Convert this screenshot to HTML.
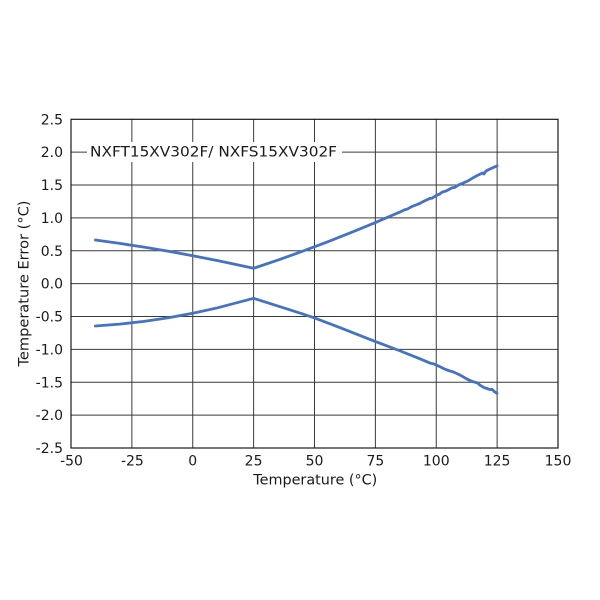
<!DOCTYPE html>
<html>
<head>
<meta charset="utf-8">
<style>
  html, body { margin: 0; padding: 0; background: #ffffff; }
  svg { display: block; }
  text { font-family: "DejaVu Sans", "Liberation Sans", sans-serif; fill: #1a1a1a; }
</style>
</head>
<body>
<svg width="600" height="600" viewBox="0 0 600 600" xmlns="http://www.w3.org/2000/svg">
  <rect x="0" y="0" width="600" height="600" fill="#ffffff"/>

  <!-- horizontal gridlines -->
  <g stroke="#3a3a3a" stroke-width="1" fill="none">
    <line x1="71" y1="152.17" x2="558" y2="152.17"/>
    <line x1="71" y1="185.04" x2="558" y2="185.04"/>
    <line x1="71" y1="217.91" x2="558" y2="217.91"/>
    <line x1="71" y1="250.78" x2="558" y2="250.78"/>
    <line x1="71" y1="283.65" x2="558" y2="283.65"/>
    <line x1="71" y1="316.52" x2="558" y2="316.52"/>
    <line x1="71" y1="349.39" x2="558" y2="349.39"/>
    <line x1="71" y1="382.26" x2="558" y2="382.26"/>
    <line x1="71" y1="415.13" x2="558" y2="415.13"/>
    <!-- vertical gridlines -->
    <line x1="131.875" y1="119.3" x2="131.875" y2="448"/>
    <line x1="192.75" y1="119.3" x2="192.75" y2="448"/>
    <line x1="253.625" y1="119.3" x2="253.625" y2="448"/>
    <line x1="314.5" y1="119.3" x2="314.5" y2="448"/>
    <line x1="375.375" y1="119.3" x2="375.375" y2="448"/>
    <line x1="436.25" y1="119.3" x2="436.25" y2="448"/>
    <line x1="497.125" y1="119.3" x2="497.125" y2="448"/>
  </g>
  <!-- plot border -->
  <rect x="71" y="119.3" width="487" height="328.7" fill="none" stroke="#1a1a1a" stroke-width="1.2"/>

  <!-- title box -->
  <rect x="87" y="142" width="255" height="20" fill="#ffffff"/>
  <text x="90" y="156.7" font-size="14.5" textLength="247" lengthAdjust="spacingAndGlyphs">NXFT15XV302F/ NXFS15XV302F</text>

  <!-- series -->
  <g fill="none" stroke="#4472C4" stroke-width="2.8" stroke-linejoin="round" stroke-linecap="round">
    <polyline points="95.35,239.98 119.7,243.4 144.05,247.15 168.4,251.24 192.75,255.7 217.1,260.5 253.6,268.3 278.0,260.05 302.3,251.35 326.7,242.2 351.0,232.6 375.4,222.56 399.75,212.08 405,209.6 407,209.2 412,206.5 418,204.2 420,203.3 424.1,201.15 430,198.4 432,198.2 436,195.7 440,193.8 442,192.2 446,191 448.45,189.78 452,187.8 455,187.4 458,185.2 462,183.6 465,182.2 468,180.9 472.8,177.96 477,175.6 480,174.2 483,172.9 484,174 486,171 490,169 494,167.2 497.1,165.7"/>
    <polyline points="95.35,325.97 119.7,324.13 144.05,321.37 168.4,317.75 192.75,313.3 217.1,307.94 253.6,298.3 278.0,306.05 302.3,313.8 314.5,317.9 338.85,327.2 375.4,341.55 399.75,350.75 420,358.8 428,362.2 431,363.4 433,363.6 436.25,365 440,366.8 445,369.2 450,371 453,371.8 457,373.6 460.6,375.3 465,377.9 468,379.6 470,380.4 472.8,381.6 476,382.5 478,383.2 480,385.2 484,387.6 487,388.5 490,389.6 492,389.2 494,391.3 497.1,393.5"/>
  </g>

  <!-- y tick labels -->
  <g font-size="14" text-anchor="end">
    <text x="63" y="124.3">2.5</text>
    <text x="63" y="157.2">2.0</text>
    <text x="63" y="190.0">1.5</text>
    <text x="63" y="222.9">1.0</text>
    <text x="63" y="255.8">0.5</text>
    <text x="63" y="288.7">0.0</text>
    <text x="63" y="321.5">-0.5</text>
    <text x="63" y="354.4">-1.0</text>
    <text x="63" y="387.3">-1.5</text>
    <text x="63" y="420.1">-2.0</text>
    <text x="63" y="453.0">-2.5</text>
  </g>

  <!-- x tick labels -->
  <g font-size="14" text-anchor="middle">
    <text x="71.5" y="465.6">-50</text>
    <text x="132.4" y="465.6">-25</text>
    <text x="192.75" y="465.6">0</text>
    <text x="253.6" y="465.6">25</text>
    <text x="314.5" y="465.6">50</text>
    <text x="375.4" y="465.6">75</text>
    <text x="436.25" y="465.6">100</text>
    <text x="497.1" y="465.6">125</text>
    <text x="558" y="465.6">150</text>
  </g>

  <!-- axis titles -->
  <text x="315.3" y="484.3" font-size="14" text-anchor="middle" textLength="124" lengthAdjust="spacingAndGlyphs">Temperature (°C)</text>
  <text transform="translate(28.5,283.5) rotate(-90)" x="0" y="0" font-size="14" text-anchor="middle" textLength="166" lengthAdjust="spacingAndGlyphs">Temperature Error (°C)</text>
</svg>
</body>
</html>
